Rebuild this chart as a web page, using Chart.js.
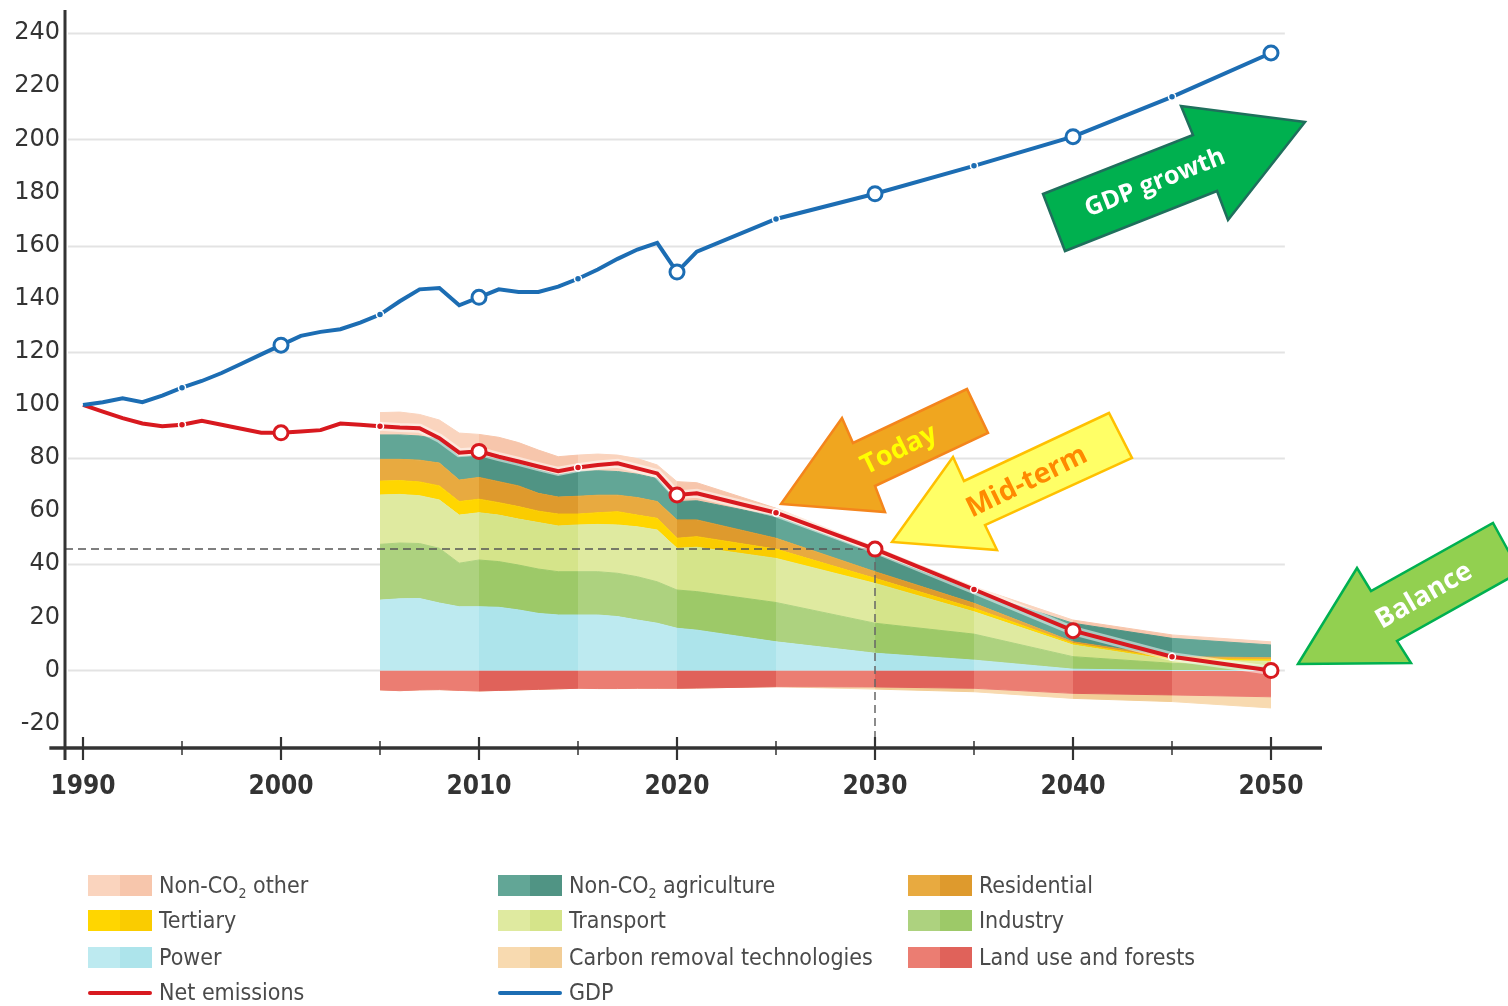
<!DOCTYPE html>
<html>
<head>
<meta charset="utf-8">
<script src="https://cdn.jsdelivr.net/npm/chart.js@4.4.1/dist/chart.umd.min.js"></script>
<style>
  html, body { margin: 0; padding: 0; background: #fff; }
  #wrap { position: relative; width: 1508px; height: 1006px; overflow: hidden; }
  #chart { position: absolute; left: 0; top: 0; }
  .lg { position: absolute; height: 30px; display: flex; align-items: center;
        font-family: "DejaVu Sans Condensed", "DejaVu Sans", sans-serif; font-size: 23px; color: #4a4a4a; white-space: nowrap; }
  .sw { width: 64px; height: 21px; display: flex; margin-right: 7px; }
  .sw span { flex: 1; }
  .ln { width: 64px; height: 21px; margin-right: 7px; position: relative; }
  .ln span { position: absolute; left: 0; right: 0; top: 9px; height: 4px; border-radius: 2px; }
  .lg sub { font-size: 14px; vertical-align: -5px; line-height: 0; }
</style>
</head>
<body>
<div id="wrap">
  <canvas id="chart" width="1508" height="1006"></canvas>
  <div id="legend"></div>
</div>
<script>
"use strict";

// GDP and net emissions, index 1990 = 100
var lineYears = [1990, 1991, 1992, 1993, 1994, 1995, 1996, 1997, 1998, 1999,
                 2000, 2001, 2002, 2003, 2004, 2005, 2006, 2007, 2008, 2009,
                 2010, 2011, 2012, 2013, 2014, 2015, 2016, 2017, 2018, 2019,
                 2020, 2021, 2025, 2030, 2035, 2040, 2045, 2050];
var gdp = [100, 101, 102.5, 101, 103.5, 106.5, 109, 112, 115.5, 119,
           122.5, 126, 127.5, 128.5, 131, 134, 139, 143.5, 144, 137.5,
           140.5, 143.5, 142.5, 142.5, 144.5, 147.5, 151, 155, 158.5, 161,
           150, 157.7, 170, 179.5, 190, 201, 216, 232.5];
var netEmissions = [100, 97.5, 95, 93, 92, 92.5, 94, 92.5, 91, 89.5,
                    89.5, 90, 90.5, 93, 92.5, 92, 91.5, 91.2, 87.5, 82,
                    82.5, 80.5, 78.7, 76.8, 75, 76.4, 77.4, 78, 76.1, 74.2,
                    66.1, 66.7, 59.4, 45.7, 30.5, 15, 5.2, 0];

// sector contributions (stacked), from 2005
var areaYears = [2005, 2006, 2007, 2008, 2009, 2010, 2011, 2012, 2013, 2014,
                 2015, 2016, 2017, 2018, 2019, 2020, 2021, 2025, 2030, 2035,
                 2040, 2045, 2050];
var power       = [26.5, 27.0, 27.1, 25.4, 24.0, 24.0, 23.8, 22.8, 21.5, 20.9, 20.9, 20.9, 20.3, 19.0, 17.8, 15.9, 15.2, 10.8, 6.5, 3.9, 0.5, 0, 0];
var industry    = [21.0, 21.0, 20.7, 20.6, 16.4, 17.6, 17.2, 16.9, 16.7, 16.3, 16.3, 16.3, 16.3, 16.3, 15.6, 14.4, 14.5, 14.8, 11.3, 9.8, 4.7, 2.7, 1.5];
var transport   = [18.6, 18.3, 18.0, 18.2, 18.1, 17.8, 17.5, 17.3, 17.5, 17.2, 17.6, 17.8, 18.2, 18.8, 19.5, 15.7, 16.7, 16.6, 15.0, 8.4, 4.4, 1.2, 2.0];
var tertiary    = [5.2, 5.2, 5.2, 5.3, 5.1, 5.1, 4.7, 4.7, 4.3, 4.5, 4.1, 4.4, 5.0, 4.4, 4.4, 3.8, 4.0, 3.5, 1.9, 1.3, 0.6, 0.5, 0.7];
var residential = [8.2, 8.0, 8.2, 8.6, 8.1, 8.2, 7.9, 7.8, 6.7, 6.4, 6.7, 6.6, 6.2, 6.6, 6.3, 6.9, 6.3, 4.1, 2.5, 1.9, 0.6, 0.8, 0.6];
var nonCo2Agri  = [9.2, 9.2, 9.1, 9.0, 8.8, 8.3, 8.4, 8.3, 8.8, 8.3, 9.3, 9.2, 8.9, 8.8, 8.7, 6.9, 7.2, 8.2, 6.9, 4.4, 7.0, 6.9, 4.8];
var nonCo2Other = [8.4, 8.6, 8.1, 7.2, 8.9, 7.9, 8.3, 8.0, 7.5, 6.9, 6.2, 6.3, 6.2, 5.9, 5.1, 7.5, 6.8, 3.1, 2.4, 1.8, 1.2, 1.3, 1.2];
var landUse     = [-7.3, -7.6, -7.3, -7.2, -7.5, -7.7, -7.5, -7.3, -7.1, -6.9, -6.7, -6.8, -6.8, -6.7, -6.7, -6.7, -6.6, -6.1, -6.2, -6.7, -8.6, -9.2, -9.9];
var carbonRemoval = [0, 0, 0, 0, 0, 0, 0, 0, 0, 0, 0, 0, 0, 0, 0, 0, 0, 0, -0.8, -1.3, -1.9, -2.5, -4.2];

var xTickYears = [1990, 1995, 2000, 2005, 2010, 2015, 2020, 2025, 2030, 2035, 2040, 2045, 2050];
var yTickValues = [-20, 0, 20, 40, 60, 80, 100, 120, 140, 160, 180, 200, 220, 240];

var blue = '#1c6db3';
var red = '#d8191f';

function pairs(xs, ys) {
    var out = [];
    for (var i = 0; i < xs.length; i++) out.push({ x: xs[i], y: ys[i] });
    return out;
}

function markerSize(ctx) {
    if (!ctx.raw) return 0;
    var x = ctx.raw.x;
    if (x === 1990) return 0;
    if (x % 10 === 0) return 7;
    if (x % 5 === 0) return 3.5;
    return 0;
}

// every other five-year block is printed in a deeper tone
function darkBlock(year) {
    return Math.floor((year - 2005) / 5) % 2 === 1;
}

function lineSet(label, ys, color, stack) {
    return {
        label: label,
        data: pairs(lineYears, ys),
        stack: stack,
        borderColor: color,
        borderWidth: 4,
        fill: false,
        tension: 0,
        pointRadius: markerSize,
        pointBackgroundColor: function (ctx) { return markerSize(ctx) > 5 ? '#fff' : color; },
        pointBorderColor: function (ctx) { return markerSize(ctx) > 5 ? color : '#fff'; },
        pointBorderWidth: function (ctx) { return markerSize(ctx) > 5 ? 3 : 1.5; }
    };
}

function areaSet(label, ys, light, dark, stack, fill) {
    var pick = function (ctx) { return darkBlock(ctx.p0.parsed.x) ? dark : light; };
    return {
        label: label,
        data: pairs(areaYears, ys),
        stack: stack,
        backgroundColor: light,
        borderColor: light,
        swatchDark: dark,
        borderWidth: 1,
        fill: fill,
        tension: 0,
        pointRadius: 0,
        segment: { backgroundColor: pick, borderColor: pick }
    };
}

var halo = {
    label: 'halo',
    data: pairs(lineYears, netEmissions),
    stack: 'halo',
    borderColor: 'rgba(255,255,255,0.5)',
    borderWidth: 9,
    fill: false,
    tension: 0,
    pointRadius: 0
};

var datasets = [
    lineSet('GDP', gdp, blue, 'gdp'),
    lineSet('Net emissions', netEmissions, red, 'net'),
    halo,
    areaSet('Power', power, '#bdeaf0', '#ade4eb', 'pos', 'origin'),
    areaSet('Industry', industry, '#add27f', '#9dc968', 'pos', '-1'),
    areaSet('Transport', transport, '#dfeaa0', '#d5e48a', 'pos', '-1'),
    areaSet('Tertiary', tertiary, '#ffd600', '#facc00', 'pos', '-1'),
    areaSet('Residential', residential, '#e8aa40', '#de9a2d', 'pos', '-1'),
    areaSet('Non-CO₂ agriculture', nonCo2Agri, '#62a696', '#509484', 'pos', '-1'),
    areaSet('Non-CO₂ other', nonCo2Other, '#fad4be', '#f7c6ac', 'pos', '-1'),
    areaSet('Land use and forests', landUse, '#eb7d72', '#e0625a', 'neg', 'origin'),
    areaSet('Carbon removal technologies', carbonRemoval, '#f8dab0', '#f2cd96', 'neg', '-1')
];

var arrows = [
    { pts: [[1043, 194], [1193, 135], [1181, 106], [1305, 122], [1228, 220], [1217, 191], [1065, 251]],
      fill: '#00b04f', stroke: '#1f6f5c', text: 'GDP growth', tx: 1155, ty: 183, angle: -21.5, size: 25, color: '#ffffff' },
    { pts: [[781, 504], [842, 418], [853, 443], [967, 389], [988, 433], [875, 486], [885, 512]],
      fill: '#f0a61f', stroke: '#f4851c', text: 'Today', tx: 899, ty: 450, angle: -26, size: 27, color: '#ffff00' },
    { pts: [[892, 542], [953, 457], [964, 481], [1109, 413], [1132, 458], [985, 525], [997, 550]],
      fill: '#ffff66', stroke: '#ffc000', text: 'Mid-term', tx: 1027, ty: 482, angle: -26, size: 28, color: '#ff8a00' },
    { pts: [[1298, 664], [1357, 568], [1371, 591], [1493, 523], [1520, 572], [1397, 641], [1411, 663]],
      fill: '#92d050', stroke: '#00b050', text: 'Balance', tx: 1424, ty: 596, angle: -30, size: 27, color: '#ffffff' }
];

var decor = {
    id: 'decor',
    beforeDatasetsDraw: function (chart) {
        var c = chart.ctx, x = chart.scales.x, y = chart.scales.y, a = chart.chartArea;
        c.save();
        c.strokeStyle = '#e3e3e3';
        c.lineWidth = 2;
        for (var v = 0; v <= 240; v += 40) {
            var py = Math.round(y.getPixelForValue(v)) + 0.5;
            c.beginPath();
            c.moveTo(a.left + 3, py);
            c.lineTo(x.getPixelForValue(2050.7), py);
            c.stroke();
        }
        c.restore();
    },
    beforeDatasetDraw: function (chart, args) {
        if (args.index !== 2) return;
        var c = chart.ctx, x = chart.scales.x, y = chart.scales.y, a = chart.chartArea;
        // dashed guides to the 2030 value
        var v2030 = netEmissions[lineYears.indexOf(2030)];
        var px = x.getPixelForValue(2030), py = y.getPixelForValue(v2030);
        c.save();
        c.setLineDash([8, 5]);
        c.lineWidth = 1.5;
        c.strokeStyle = '#555';
        c.beginPath();
        c.moveTo(a.left, py);
        c.lineTo(px, py);
        c.stroke();
        c.strokeStyle = '#666';
        c.beginPath();
        c.moveTo(px, py);
        c.lineTo(px, a.bottom);
        c.stroke();
        c.restore();
    },
    afterDatasetsDraw: function (chart) {
        var c = chart.ctx, x = chart.scales.x, a = chart.chartArea;
        c.save();
        c.strokeStyle = '#333';
        c.lineWidth = 3;
        c.beginPath();
        c.moveTo(a.left, a.top);
        c.lineTo(a.left, a.bottom + 12);
        c.stroke();
        c.lineWidth = 3.5;
        c.beginPath();
        c.moveTo(x.getPixelForValue(1988.3), a.bottom);
        c.lineTo(a.right, a.bottom);
        c.stroke();
        x.ticks.forEach(function (t) {
            var px = x.getPixelForValue(t.value);
            var major = t.value % 10 === 0;
            c.lineWidth = major ? 2.2 : 1.5;
            c.beginPath();
            c.moveTo(px, a.bottom - (major ? 11 : 7));
            c.lineTo(px, a.bottom + (major ? 12 : 7));
            c.stroke();
        });
        c.restore();
    },
    afterDraw: function (chart) {
        var c = chart.ctx;
        arrows.forEach(function (ar) {
            c.save();
            c.beginPath();
            ar.pts.forEach(function (p, i) { if (i === 0) c.moveTo(p[0], p[1]); else c.lineTo(p[0], p[1]); });
            c.closePath();
            c.fillStyle = ar.fill;
            c.fill();
            c.lineWidth = 2.5;
            c.lineJoin = 'miter';
            c.strokeStyle = ar.stroke;
            c.stroke();
            c.translate(ar.tx, ar.ty);
            c.rotate(ar.angle * Math.PI / 180);
            c.font = 'bold ' + ar.size + 'px "Open Sans", sans-serif';
            c.textAlign = 'center';
            c.textBaseline = 'middle';
            c.fillStyle = ar.color;
            c.fillText(ar.text, 0, 0);
            c.restore();
        });
    }
};

var ctx = document.getElementById('chart');

var myChart = new Chart(ctx, {
    type: 'line',
    data: { datasets: datasets },
    options: {
        responsive: false,
        animation: false,
        devicePixelRatio: 1,
        layout: { padding: { top: 10, right: 186, bottom: 0, left: 0 } },
        plugins: {
            legend: { display: false },
            tooltip: { enabled: false }
        },
        scales: {
            x: {
                type: 'linear',
                // 19.8 px a year, so the five-year blocks fall on whole pixels
                min: 1989.0909,
                max: 2052.5758,
                afterBuildTicks: function (scale) {
                    scale.ticks = xTickYears.map(function (v) { return { value: v }; });
                },
                afterFit: function (scale) {
                    scale.height = 258;
                    scale.paddingLeft = 0;
                    scale.paddingRight = 0;
                },
                grid: { display: false, drawTicks: false },
                border: { display: false },
                ticks: {
                    autoSkip: false,
                    maxRotation: 0,
                    padding: 24,
                    color: '#333',
                    font: { family: '"DejaVu Sans Condensed", "DejaVu Sans"', size: 26, weight: 'bold' },
                    callback: function (v) { return v % 10 === 0 ? String(v) : ''; }
                }
            },
            y: {
                stacked: true,
                min: -29.18,
                max: 248.68,
                afterBuildTicks: function (scale) {
                    scale.ticks = yTickValues.map(function (v) { return { value: v }; });
                },
                afterFit: function (scale) {
                    scale.width = 65;
                    scale.paddingTop = 0;
                    scale.paddingBottom = 0;
                },
                grid: { display: false, drawTicks: false },
                border: { display: false },
                ticks: {
                    padding: 5,
                    color: '#333',
                    font: { family: '"DejaVu Sans"', size: 24 },
                    callback: function (v) { return String(v); }
                }
            }
        }
    },
    plugins: [decor]
});

// legend, laid out as in the original figure
var legendOrder = [
    'Non-CO₂ other', 'Non-CO₂ agriculture', 'Residential',
    'Tertiary', 'Transport', 'Industry',
    'Power', 'Carbon removal technologies', 'Land use and forests',
    'Net emissions', 'GDP'
];
var legendCols = [88, 498, 908];
var legendRows = [885, 920, 957, 992];

var legendBox = document.getElementById('legend');
legendOrder.forEach(function (label, i) {
    var ds = datasets.filter(function (d) { return d.label === label; })[0];
    var item = document.createElement('div');
    item.className = 'lg';
    item.style.left = legendCols[i % 3] + 'px';
    item.style.top = (legendRows[Math.floor(i / 3)] - 15) + 'px';
    var sw;
    if (ds.swatchDark) {
        sw = '<div class="sw"><span style="background:' + ds.backgroundColor + '"></span><span style="background:' + ds.swatchDark + '"></span></div>';
    } else {
        sw = '<div class="ln"><span style="background:' + ds.borderColor + '"></span></div>';
    }
    item.innerHTML = sw + '<div>' + label.replace('₂', '<sub>2</sub>') + '</div>';
    legendBox.appendChild(item);
});
</script>
</body>
</html>
